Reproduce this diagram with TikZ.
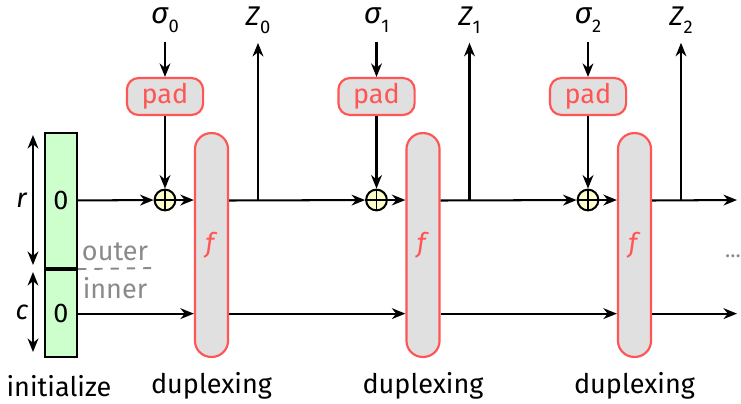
\documentclass[tikz,border=0pt]{standalone}
\usepackage{fontspec}
\setmainfont{Fira Sans}
\usetikzlibrary{arrows.meta}

\definecolor{permred}{HTML}{FF5555}
\definecolor{permgray}{HTML}{E0E0E0}
\definecolor{initgreen}{HTML}{CCFFCC}
\definecolor{xoryellow}{HTML}{FFFFCC}
\definecolor{notegray}{HTML}{8A8A8A}

\newcommand{\subidx}[2]{#1\raisebox{-.55ex}{\fontsize{6.8}{7}\selectfont #2}}

\tikzset{
  wire/.style={line width=.75pt, -{Stealth[length=5pt,width=4pt,inset=1.6pt]}},
  span/.style={line width=.75pt, {Stealth[length=5pt,width=4pt,inset=1.6pt]}-{Stealth[length=5pt,width=4pt,inset=1.6pt]}},
  statebox/.style={draw, line width=.8pt, fill=initgreen, minimum width=.42cm, inner sep=0pt},
  permbox/.style={draw=permred, line width=.8pt, fill=permgray, rounded corners=.21cm,
    minimum width=.43cm, minimum height=2.91cm, inner sep=0pt, text=permred},
  padbox/.style={draw=permred, line width=.8pt, fill=permgray, rounded corners=.15cm,
    minimum width=.99cm, minimum height=.48cm, inner sep=0pt, text=permred},
  xorgate/.style={circle, draw, line width=.75pt, fill=xoryellow, minimum size=.27cm, inner sep=0pt,
    path picture={\draw[line width=.6pt] (path picture bounding box.north) -- (path picture bounding box.south)
      (path picture bounding box.west) -- (path picture bounding box.east);}},
  note/.style={text=notegray},
}

\begin{document}
\begin{tikzpicture}[x=0.013cm, y=-0.013cm]
  \useasboundingbox (0,0) rectangle (741,403);

  % state, initialized to zero
  \node[statebox, minimum height=1.755cm] (initr) at (61,200.5) {0};
  \node[statebox, minimum height=1.13cm, anchor=north] (initc) at (initr.south) {0};
  \node (initlbl) at (59,386) {initialize};

  \node (rlbl) at (22,200) {\textit{r}};
  \node (clbl) at (22,312) {\textit{c}};
  \coordinate (rtop) at (33,135);
  \coordinate (rbot) at (33,265);
  \coordinate (ctop) at (33,272);
  \coordinate (cbot) at (33,352);
  \draw[span] (rtop) -- (rbot);
  \draw[span] (ctop) -- (cbot);

  \coordinate (dashend) at (158,268);
  \draw[notegray, dashed, line width=.7pt] (initr.south east) -- (dashend);
  \node[note] (outerlbl) at (115,252) {outer};
  \node[note] (innerlbl) at (115,288) {inner};

  % duplexing calls
  \foreach \i in {0,1,2} {
    \pgfmathsetmacro{\xs}{165+211.5*\i}
    \node (sig\i) at (\xs,20) {\fontsize{11}{12}\selectfont\subidx{\textit{σ}}{\i}};
    \node[padbox] (pad\i) at (\xs,96.5) {pad};
    \node[xorgate] (xor\i) at (\xs,200) {};
    \node[permbox] (f\i) at (\xs+46.5,245) {\textit{f}};
    \node (Z\i) at (\xs+93,20) {\subidx{\textit{Z}}{\i}};
    \coordinate (zb\i) at (\xs+93,200);
    \node (dup\i) at (\xs+46.5,386) {duplexing};
    \draw[wire] (sig\i) -- (pad\i);
    \draw[wire] (pad\i) -- (xor\i);
    \draw[wire] (xor\i) -- (xor\i -| f\i.west);
    \draw[wire] (zb\i) -- (Z\i);
  }

  \coordinate (endr) at (737,200);
  \coordinate (endc) at (737,312);
  \node[note] (dots) at (733,256) {\footnotesize ...};

  \draw[wire] (initr) -- (xor0);
  \draw[wire] (initc) -- (initc -| f0.west);
  \foreach \i/\nxt in {0/xor1, 1/xor2, 2/endr}
    \draw[wire] (f\i.east |- initr) -- (\nxt);
  \foreach \i/\nxt in {0/f1.west, 1/f2.west, 2/endc}
    \draw[wire] (f\i.east |- initc) -- (\nxt |- initc);
\end{tikzpicture}
\end{document}
